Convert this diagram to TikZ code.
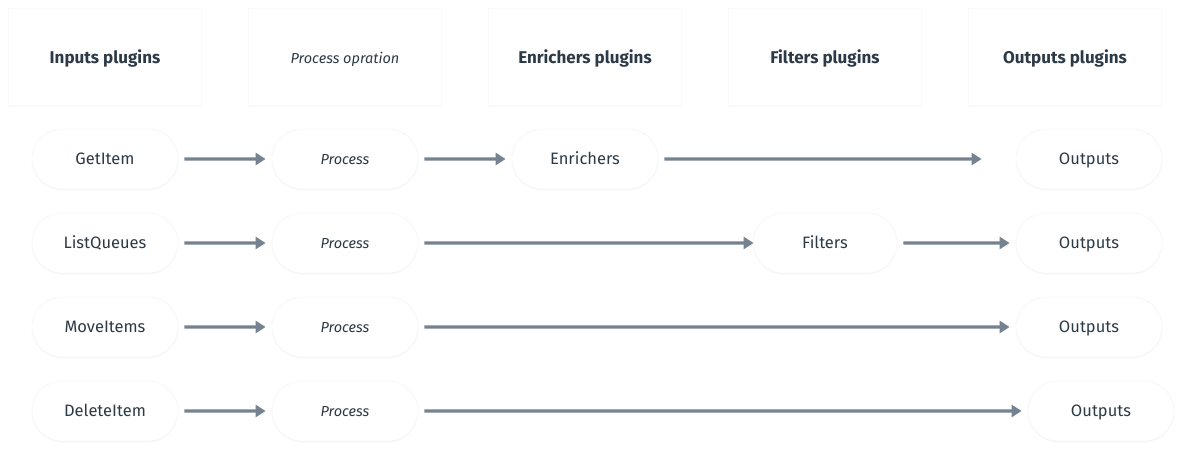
\documentclass[tikz,border=0pt]{standalone}
\usepackage{fontspec}
\setmainfont{Fira Sans}
\usetikzlibrary{arrows.meta,shapes.misc,shadows}
\definecolor{txt}{HTML}{2C3A47}
\definecolor{arr}{HTML}{758290}
\tikzset{
  hdr/.style={draw=black!2, line width=0.6pt, fill=white, minimum width=193pt, minimum height=97pt, inner sep=0pt,
    drop shadow={shadow xshift=0pt, shadow yshift=-1.5pt, opacity=0.03, fill=black}},
  pill/.style={rounded rectangle, draw=black!3, line width=0.8pt, fill=white, minimum width=146pt, minimum height=60pt, inner sep=0pt,
    text=txt, font=\fontsize{16.5}{18}\selectfont, text height=11.4pt, text depth=0pt,
    drop shadow={shadow xshift=0pt, shadow yshift=-1.5pt, opacity=0.03, fill=black}},
  proc/.style={pill, font=\fontsize{14.5}{16}\selectfont\itshape, text height=10pt},
  htxt/.style={text=txt, font=\fontsize{17}{18}\selectfont\bfseries, text height=11.7pt, text depth=0pt, inner sep=0pt},
  flow/.style={draw=arr, line width=3.2pt, -{Triangle[length=10pt,width=12pt]}, shorten <=6pt, shorten >=6pt},
}
\begin{document}
\begin{tikzpicture}[x=1pt,y=-1pt]
\useasboundingbox[fill=white] (0,0) rectangle (1182,450);
% headers
\node[hdr] (h1) at (104.5,56.5) {};
\node[hdr] (h2) at (344.5,56.5) {};
\node[hdr] (h3) at (584.5,56.5) {};
\node[hdr] (h4) at (824.5,56.5) {};
\node[hdr] (h5) at (1064.5,56.5) {};
\node[htxt] (t1) at (105,58) {Inputs plugins};
\node[text=txt, font=\fontsize{14.5}{16}\selectfont\itshape, text height=10pt, text depth=0pt, inner sep=0pt] (t2) at (345,58) {Process opration};
\node[htxt] (t3) at (585,58) {Enrichers plugins};
\node[htxt] (t4) at (825,58) {Filters plugins};
\node[htxt] (t5) at (1065,58) {Outputs plugins};
% row 1
\node[pill] (in1) at (105,159) {GetItem};
\node[proc] (p1) at (345,159) {Process};
\node[pill] (enr) at (585,159) {Enrichers};
\node[pill] (o1) at (1089,159) {Outputs};
% row 2
\node[pill] (in2) at (105,243) {ListQueues};
\node[proc] (p2) at (345,243) {Process};
\node[pill, minimum width=144pt] (fil) at (825,243) {Filters};
\node[pill] (o2) at (1089,243) {Outputs};
% row 3
\node[pill] (in3) at (105,327) {MoveItems};
\node[proc] (p3) at (345,327) {Process};
\node[pill] (o3) at (1089,327) {Outputs};
% row 4
\node[pill] (in4) at (105,411) {DeleteItem};
\node[proc] (p4) at (345,411) {Process};
\node[pill] (o4) at (1101,411) {Outputs};
% arrows
\draw[flow] (in1) -- (p1);
\draw[flow] (p1) -- (enr);
\draw[flow, shorten >=34pt] (enr) -- (o1);
\draw[flow] (in2) -- (p2);
\draw[flow, shorten >=-1pt] (p2) -- (fil);
\draw[flow] (fil) -- (o2);
\draw[flow] (in3) -- (p3);
\draw[flow] (p3) -- (o3);
\draw[flow] (in4) -- (p4);
\draw[flow] (p4) -- (o4);
\end{tikzpicture}
\end{document}
